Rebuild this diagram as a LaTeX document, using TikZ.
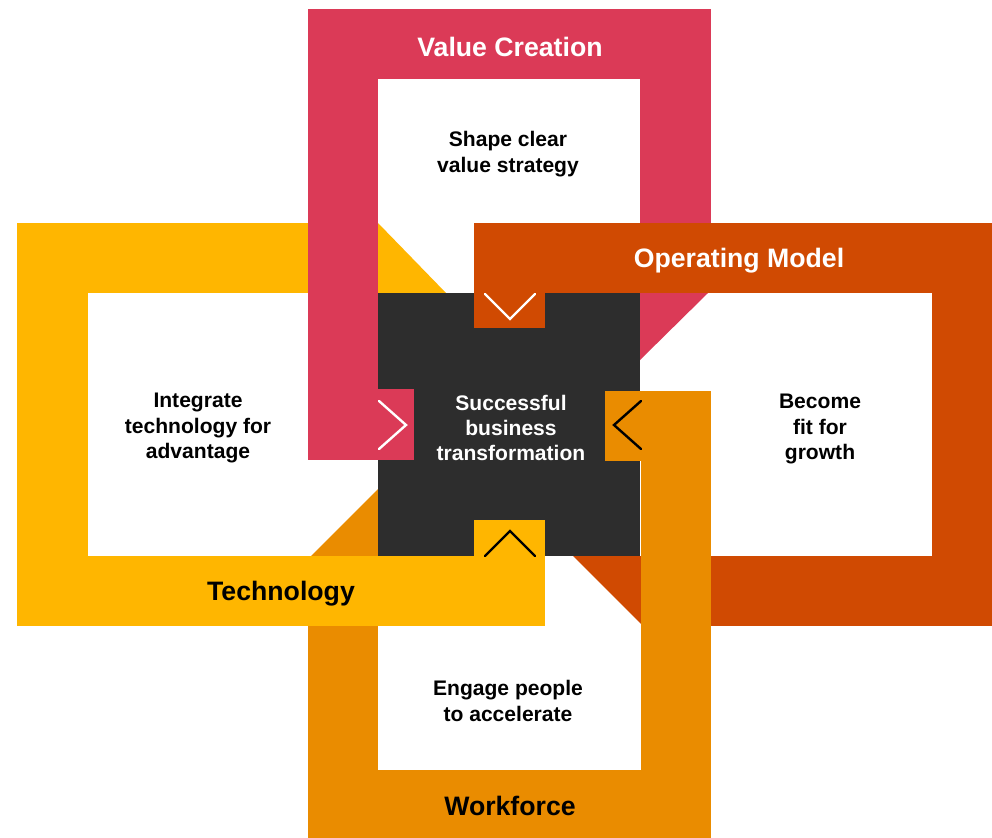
\documentclass[tikz,border=0pt]{standalone}
\usepackage{fontspec}
\setmainfont{Liberation Sans}
\definecolor{vred}{HTML}{DB3A57}
\definecolor{oprd}{HTML}{D04A02}
\definecolor{tyel}{HTML}{FFB600}
\definecolor{worg}{HTML}{EA8C00}
\definecolor{dark}{HTML}{2D2D2D}
\tikzset{
  titletext/.style={font=\bfseries\fontsize{20}{24}\selectfont, anchor=center},
  bodytext/.style={font=\bfseries\fontsize{15.8}{18.9}\selectfont, align=center, anchor=center, text=black},
  chevw/.style={draw=white, line width=1.8pt, line cap=round, line join=miter},
  chevb/.style={draw=black, line width=1.8pt, line cap=round, line join=miter}
}
\begin{document}
\begin{tikzpicture}[x=0.75pt,y=-0.75pt]
\useasboundingbox (0,0) rectangle (992,838);
\fill[white] (0,0) rectangle (992,838);
% Technology (yellow) frame
\fill[tyel] (17,223) rectangle (378,293);
\fill[tyel] (378,223) -- (446,293) -- (378,293) -- cycle;
\fill[tyel] (17,223) rectangle (88,626);
% Workforce (orange) frame bottom parts
\fill[worg] (308,556) rectangle (378,838);
\fill[worg] (311,556) -- (378,489) -- (378,556) -- cycle;
\fill[worg] (308,770) rectangle (711,838);
% Value Creation (red) frame
\fill[vred] (308,9) rectangle (711,79);
\fill[vred] (308,9) rectangle (378,460);
\fill[vred] (640,9) rectangle (711,293);
\fill[vred] (640,293) -- (708,293) -- (640,360) -- cycle;
% Operating Model frame
\fill[oprd] (474,223) rectangle (992,293);
\fill[oprd] (932,223) rectangle (992,626);
\fill[oprd] (641,556) rectangle (992,626);
\fill[oprd] (573,556) -- (641,556) -- (641,624) -- cycle;
% Workforce right leg (over operating model bottom)
\fill[worg] (641,391) rectangle (711,838);
% Technology bottom bar (over workforce left leg)
\fill[tyel] (17,556) rectangle (545,626);
% centre
\fill[dark] (378,293) rectangle (640,556);
\node[font=\bfseries\fontsize{15.8}{18.9}\selectfont, align=center, text=white] (centre) at (511,428) {Successful\\business\\transformation};
% tabs
\fill[vred] (378,389) rectangle (414,460);
\draw[chevw] (379,401) -- (406,425) -- (379,449);
\fill[oprd] (474,293) rectangle (545,328);
\draw[chevw] (485,294) -- (510,319) -- (535,294);
\fill[worg] (605,391) rectangle (641,461);
\draw[chevb] (641,401) -- (614,425) -- (641,449);
\fill[tyel] (474,520) rectangle (545,556);
\draw[chevb] (485,556) -- (510,531) -- (535,556);
% titles
\node[titletext, text=white] (vc) at (510,47) {Value Creation};
\node[titletext, text=white] (om) at (739,261) {Operating Model};
\node[titletext, text=black] (tech) at (281,594) {Technology};
\node[titletext, text=black] (wf) at (510,806) {Workforce};
% body texts
\node[bodytext] (vctxt) at (508,154) {Shape clear\\value strategy};
\node[bodytext] (omtxt) at (820,429) {Become\\fit for\\growth};
\node[bodytext] (techtxt) at (198,428) {Integrate\\technology for\\advantage};
\node[bodytext] (wftxt) at (508,701) {Engage people\\to accelerate};
\end{tikzpicture}
\end{document}
